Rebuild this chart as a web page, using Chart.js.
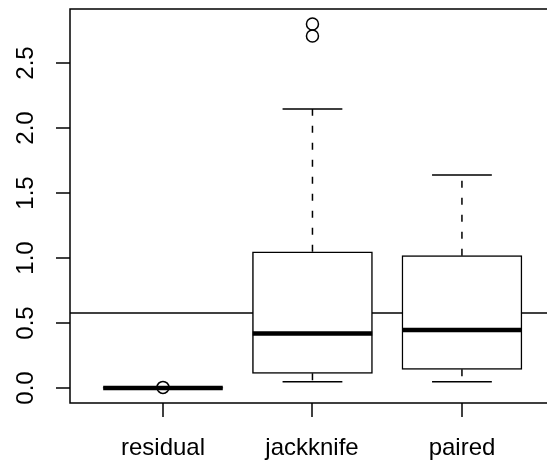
<!DOCTYPE html>
<html lang="en">
<head>
    <meta charset="UTF-8">
    <title>Boxplot</title>
    <script src="https://cdn.jsdelivr.net/npm/chart.js"></script>
    <style>
        body {
            margin: 0;
            padding: 0;
            background: #fff;
        }
        #wrap {
            width: 547px;
            height: 466px;
        }
    </style>
</head>
<body>
    <div id="wrap"><canvas id="boxChart" width="547" height="466"></canvas></div>

    <script>
        // Data
        const categories = ['residual', 'jackknife', 'paired'];
        const lowerWhisker = [0, 0.048, 0.048];
        const q1 = [0, 0.113, 0.144];
        const medians = [0, 0.42, 0.446];
        const q3 = [0.003, 1.048, 1.018];
        const upperWhisker = [0.003, 2.146, 1.638];
        const outliers = [[0.005], [2.708, 2.80], []];
        const refLine = 0.578;
        const yTicks = [0, 0.5, 1, 1.5, 2, 2.5];

        // plot region runs past the right edge of the image, as in the original
        const X_MIN = 0.378, X_MAX = 3.569;
        const CAP = 0.2;   // half width of whisker caps
        const HALF = 0.4;  // half width of median segment

        // build segments, null breaks the line
        const whiskerPts = [], capPts = [], medianPts = [], outlierPts = [];
        categories.forEach((c, i) => {
            const x = i + 1;
            whiskerPts.push({x: x, y: q3[i]}, {x: x, y: upperWhisker[i]}, {x: x, y: null});
            whiskerPts.push({x: x, y: q1[i]}, {x: x, y: lowerWhisker[i]}, {x: x, y: null});
            capPts.push({x: x - CAP, y: upperWhisker[i]}, {x: x + CAP, y: upperWhisker[i]}, {x: x, y: null});
            capPts.push({x: x - CAP, y: lowerWhisker[i]}, {x: x + CAP, y: lowerWhisker[i]}, {x: x, y: null});
            medianPts.push({x: x - HALF, y: medians[i]}, {x: x + HALF, y: medians[i]}, {x: x, y: null});
            outliers[i].forEach(v => outlierPts.push({x: x, y: v}));
        });

        // R-style frame, ticks and labels
        const rAxes = {
            id: 'rAxes',
            afterDraw(chart) {
                const ctx = chart.ctx;
                const a = chart.chartArea;
                const xs = chart.scales.x, ys = chart.scales.y;
                ctx.save();
                ctx.strokeStyle = '#000';
                ctx.lineWidth = 1.5;
                ctx.beginPath();
                ctx.moveTo(a.right + 2, a.top);
                ctx.lineTo(a.left, a.top);
                ctx.lineTo(a.left, a.bottom);
                ctx.lineTo(a.right + 2, a.bottom);
                ctx.stroke();
                ctx.fillStyle = '#000';
                ctx.font = '24px "Liberation Sans", Arial, sans-serif';

                yTicks.forEach(v => {
                    const y = Math.round(ys.getPixelForValue(v));
                    ctx.beginPath();
                    ctx.moveTo(a.left, y);
                    ctx.lineTo(a.left - 14, y);
                    ctx.stroke();
                    ctx.save();
                    ctx.translate(26, y);
                    ctx.rotate(-Math.PI / 2);
                    ctx.textAlign = 'center';
                    ctx.textBaseline = 'middle';
                    ctx.fillText(v.toFixed(1), 0, 0);
                    ctx.restore();
                });

                categories.forEach((c, i) => {
                    const x = Math.round(xs.getPixelForValue(i + 1));
                    ctx.beginPath();
                    ctx.moveTo(x, a.bottom);
                    ctx.lineTo(x, a.bottom + 14);
                    ctx.stroke();
                    ctx.textAlign = 'center';
                    ctx.textBaseline = 'middle';
                    ctx.fillText(c, x, 448);
                });
                ctx.restore();
            }
        };

        const ctx = document.getElementById('boxChart').getContext('2d');
        const boxChart = new Chart(ctx, {
            type: 'bar',
            data: {
                datasets: [
                    {
                        type: 'line',
                        data: [{x: X_MIN, y: refLine}, {x: X_MAX, y: refLine}],
                        borderColor: '#000',
                        borderWidth: 1.5,
                        pointRadius: 0,
                        order: 6
                    },
                    {
                        type: 'bar',
                        data: categories.map((c, i) => ({x: i + 1, y: [q1[i], q3[i]]})),
                        backgroundColor: '#fff',
                        borderColor: '#000',
                        borderWidth: 1.5,
                        borderSkipped: false,
                        barThickness: 120,
                        order: 5
                    },
                    {
                        type: 'line',
                        data: whiskerPts,
                        borderColor: '#000',
                        borderWidth: 1.5,
                        borderDash: [7, 10],
                        pointRadius: 0,
                        spanGaps: false,
                        order: 4
                    },
                    {
                        type: 'line',
                        data: capPts,
                        borderColor: '#000',
                        borderWidth: 1.5,
                        pointRadius: 0,
                        spanGaps: false,
                        order: 3
                    },
                    {
                        type: 'line',
                        data: medianPts,
                        borderColor: '#000',
                        borderWidth: 4.5,
                        borderCapStyle: 'butt',
                        pointRadius: 0,
                        spanGaps: false,
                        order: 2
                    },
                    {
                        type: 'scatter',
                        data: outlierPts,
                        borderColor: '#000',
                        backgroundColor: 'rgba(0,0,0,0)',
                        borderWidth: 1.5,
                        pointRadius: 6,
                        order: 1
                    }
                ]
            },
            options: {
                responsive: false,
                animation: false,
                layout: {
                    autoPadding: false,
                    padding: {left: 70, top: 9, right: 0, bottom: 63}
                },
                plugins: {
                    legend: {display: false},
                    tooltip: {enabled: false}
                },
                scales: {
                    x: {
                        type: 'linear',
                        min: X_MIN,
                        max: X_MAX,
                        offset: false,
                        display: false
                    },
                    y: {
                        type: 'linear',
                        min: -0.115,
                        max: 2.915,
                        display: false
                    }
                }
            },
            plugins: [rAxes]
        });
    </script>
</body>
</html>
